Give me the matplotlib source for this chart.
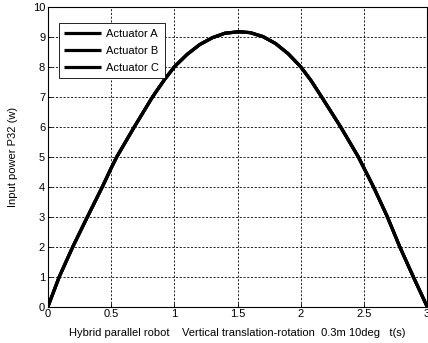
import matplotlib
matplotlib.use('Agg')
import matplotlib.pyplot as plt

# 三条曲线重合，读数来自原图
t = [0, 0.09, 0.197, 0.313, 0.431, 0.5, 0.545, 0.684, 0.828, 0.92, 1.0,
     1.1, 1.2, 1.3, 1.4, 1.51, 1.6, 1.7, 1.8, 1.9, 2.0, 2.08, 2.16, 2.315,
     2.455, 2.575, 2.685, 2.783, 2.89, 3.0]
p_a = [0, 1, 2, 3, 4, 4.62, 5, 6, 7, 7.56, 8.0,
       8.41, 8.74, 8.97, 9.12, 9.17, 9.14, 9.01, 8.78, 8.44, 8.0, 7.55, 7.03, 6.0,
       5.0, 4.0, 3.0, 2.0, 1.0, 0]
p_b = list(p_a)
p_c = list(p_a)
labels = ['Actuator A', 'Actuator B', 'Actuator C']

plt.rcParams['font.family'] = ['Liberation Sans', 'DejaVu Sans']
fig = plt.figure(figsize=(4.28, 3.43), dpi=100)
ax = fig.add_axes([0.112, 0.106, 0.886, 0.874])

for ys, lab in zip([p_a, p_b, p_c], labels):
    ax.plot(t, ys, color='black', linewidth=2.3, label=lab,
            solid_joinstyle='round', solid_capstyle='butt')

ax.set_xlim(0, 3)
ax.set_ylim(0, 10)
ax.set_xticks([0, 0.5, 1, 1.5, 2, 2.5, 3])
ax.set_xticklabels(['0', '0.5', '1', '1.5', '2', '2.5', '3'])
ax.set_yticks(range(0, 11))
ax.tick_params(direction='in', length=3, width=0.6, labelsize=8, pad=2)
ax.grid(True, color='black', linestyle=(0, (2.5, 2)), linewidth=0.6)
for s in ax.spines.values():
    s.set_linewidth(0.8)

ax.set_xlabel('Hybrid parallel robot    Vertical translation-rotation  0.3m 10deg   t(s)',
              fontsize=8, labelpad=6)
ax.set_ylabel('Input power P32 (w)', fontsize=8, labelpad=11)

leg = ax.legend(loc='upper left', bbox_to_anchor=(0.028, 0.945), fontsize=8,
                fancybox=False, framealpha=1, edgecolor='black', handlelength=3.3,
                borderpad=0.5, labelspacing=0.62, handletextpad=0.5,
                borderaxespad=0)
leg.get_frame().set_linewidth(0.6)

plt.savefig('out.png', dpi=100)
